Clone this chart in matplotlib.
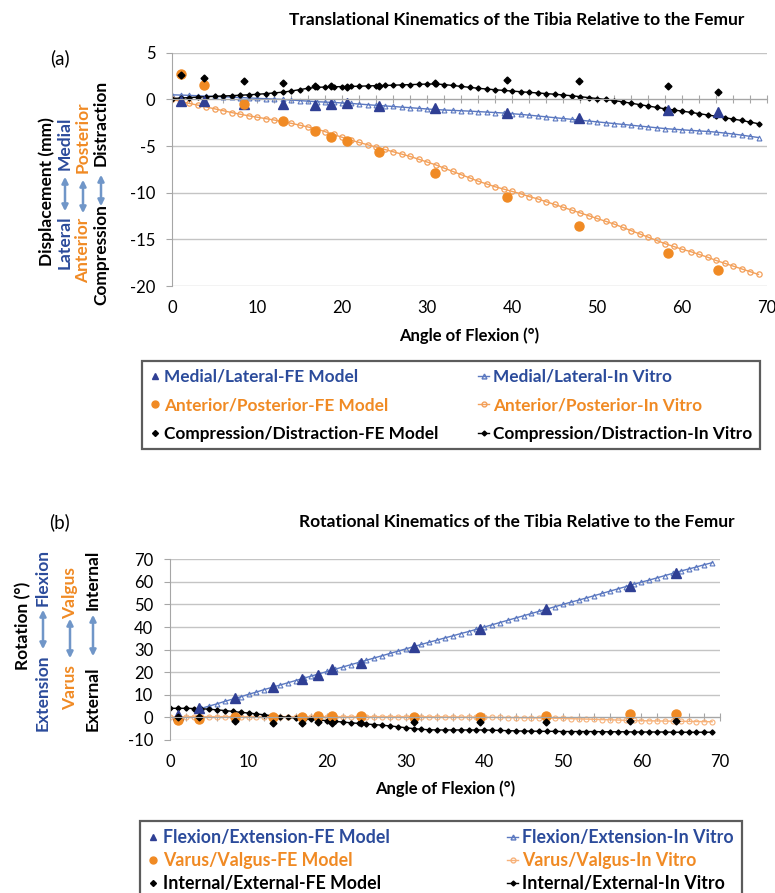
import matplotlib
matplotlib.use("Agg")
import matplotlib.pyplot as plt
from matplotlib.patches import FancyArrowPatch
from matplotlib.lines import Line2D
from matplotlib.ticker import MultipleLocator

plt.rcParams["font.family"] = ["Lato", "DejaVu Sans"]
plt.rcParams["axes.unicode_minus"] = False

W, H = 775, 893

# ---------------- (a) translational data ----------------
fe_angle_a = [1.0, 3.8, 8.5, 13.1, 16.8, 18.7, 20.6, 24.4, 30.9, 39.4, 47.9, 58.4, 64.2]
ml_fe = [-0.2, -0.2, -0.5, -0.5, -0.6, -0.5, -0.4, -0.65, -0.95, -1.5, -2.0, -1.1, -1.3]
ap_fe = [2.75, 1.55, -0.5, -2.3, -3.35, -4.0, -4.4, -5.6, -7.9, -10.5, -13.6, -16.5, -18.3]
cd_fe = [2.6, 2.35, 2.0, 1.75, 1.45, 1.4, 1.3, 1.45, 1.75, 2.1, 2.0, 1.4, 0.8]

vitro_angle_a = list(range(0, 70))
ml_vitro = [0.50, 0.47, 0.44, 0.40, 0.36, 0.33, 0.29, 0.25, 0.21, 0.17,
            0.12, 0.08, 0.04, 0.00, -0.06, -0.12, -0.18, -0.24, -0.28, -0.32,
            -0.37, -0.42, -0.49, -0.56, -0.63, -0.69, -0.75, -0.82, -0.88, -0.95,
            -1.02, -1.08, -1.13, -1.17, -1.21, -1.25, -1.30, -1.35, -1.40, -1.45,
            -1.52, -1.60, -1.68, -1.77, -1.86, -1.95, -2.04, -2.13, -2.22, -2.31,
            -2.40, -2.49, -2.58, -2.67, -2.76, -2.85, -2.94, -3.03, -3.12, -3.19,
            -3.25, -3.31, -3.37, -3.43, -3.50, -3.60, -3.70, -3.82, -3.95, -4.08]
ap_vitro = [0.0, -0.2, -0.42, -0.6, -0.8, -1.0, -1.2, -1.4, -1.58, -1.75,
            -1.9, -2.05, -2.2, -2.38, -2.55, -2.75, -2.95, -3.15, -3.45, -3.75,
            -4.05, -4.35, -4.6, -4.85, -5.1, -5.35, -5.6, -5.85, -6.1, -6.4,
            -6.7, -7.0, -7.35, -7.7, -8.05, -8.4, -8.75, -9.05, -9.35, -9.6,
            -9.85, -10.1, -10.4, -10.65, -10.95, -11.25, -11.55, -11.85, -12.15, -12.45,
            -12.75, -13.05, -13.35, -13.7, -14.05, -14.4, -14.75, -15.1, -15.45, -15.75,
            -16.05, -16.3, -16.6, -16.9, -17.25, -17.55, -17.85, -18.15, -18.45, -18.75]
cd_vitro = [0.1, 0.15, 0.2, 0.25, 0.3, 0.33, 0.37, 0.41, 0.45, 0.5,
            0.55, 0.62, 0.7, 0.78, 0.9, 1.05, 1.2, 1.3, 1.33, 1.36,
            1.38, 1.4, 1.42, 1.45, 1.48, 1.5, 1.53, 1.56, 1.59, 1.62,
            1.65, 1.66, 1.6, 1.5, 1.4, 1.3, 1.2, 1.12, 1.04, 0.97,
            0.9, 0.83, 0.76, 0.7, 0.63, 0.56, 0.48, 0.4, 0.3, 0.2,
            0.1, 0.0, -0.12, -0.25, -0.4, -0.55, -0.7, -0.85, -1.0, -1.12,
            -1.25, -1.38, -1.52, -1.66, -1.8, -1.95, -2.1, -2.25, -2.42, -2.6]

# ---------------- (b) rotational data ----------------
fe_angle_b = [1.0, 3.7, 8.3, 13.1, 16.8, 18.8, 20.6, 24.3, 31.0, 39.5, 47.9, 58.5, 64.4]
flex_fe = [1.0, 4.0, 8.4, 13.6, 16.8, 18.9, 21.5, 23.9, 31.3, 39.1, 47.8, 58.2, 64.1]
vv_fe = [-1.2, -0.9, 0.0, 0.3, 0.3, 0.7, 0.7, 0.7, 0.3, 0.3, 0.7, 1.5, 1.5]
ie_fe = [0.3, 0.0, -1.5, -2.4, -2.4, -2.0, -2.4, -2.7, -1.9, -1.9, -1.9, -1.5, -1.5]

vitro_angle_b = list(range(0, 70))
flex_vitro_angle = list(range(4, 70))
flex_vitro = [4.0, 5.0, 6.0, 7.1, 8.1, 9.1, 10.2, 11.2, 12.3, 13.3,
              14.3, 15.3, 16.3, 17.3, 18.3, 19.3, 20.3, 21.3, 22.3, 23.3,
              24.3, 25.3, 26.3, 27.3, 28.3, 29.3, 30.3, 31.3, 32.3, 33.3,
              34.2, 35.2, 36.1, 37.1, 38.0, 39.0, 40.0, 41.0, 42.0, 43.0,
              44.0, 45.0, 46.0, 47.0, 48.0, 49.0, 50.0, 51.0, 51.9, 52.9,
              53.9, 54.9, 55.9, 56.9, 57.9, 58.9, 59.9, 60.8, 61.8, 62.8,
              63.8, 64.8, 65.7, 66.6, 67.6, 68.5]
vv_vitro = [0.0, 0.2, 0.3, 0.3, 0.3, 0.3, 0.3, 0.3, 0.3, 0.3,
            0.3, 0.3, 0.3, 0.3, 0.3, 0.3, 0.3, 0.3, 0.3, 0.3,
            0.3, 0.3, 0.3, 0.3, 0.3, 0.3, 0.3, 0.3, 0.3, 0.3,
            0.3, 0.3, 0.28, 0.25, 0.22, 0.2, 0.18, 0.15, 0.12, 0.1,
            0.05, 0.0, -0.05, -0.1, -0.15, -0.2, -0.25, -0.3, -0.35, -0.4,
            -0.5, -0.6, -0.7, -0.8, -0.9, -1.0, -1.1, -1.2, -1.3, -1.4,
            -1.5, -1.55, -1.6, -1.65, -1.7, -1.75, -1.8, -1.85, -1.9, -1.95]
ie_vitro = [4.0, 4.0, 4.0, 3.9, 3.8, 3.6, 3.3, 3.0, 2.6, 2.2,
            1.9, 1.5, 1.1, 0.7, 0.3, 0.0, -0.3, -0.6, -0.9, -1.2,
            -1.5, -1.8, -2.1, -2.4, -2.7, -3.0, -3.2, -3.5, -3.8, -4.2,
            -4.6, -5.0, -5.3, -5.5, -5.6, -5.6, -5.6, -5.6, -5.6, -5.6,
            -5.6, -5.7, -5.8, -5.9, -6.0, -6.1, -6.1, -6.2, -6.2, -6.2,
            -6.3, -6.3, -6.3, -6.3, -6.3, -6.4, -6.4, -6.4, -6.4, -6.5,
            -6.5, -6.5, -6.5, -6.5, -6.6, -6.6, -6.6, -6.6, -6.6, -6.6]

labels_a = ["Medial/Lateral-FE Model", "Anterior/Posterior-FE Model", "Compression/Distraction-FE Model",
            "Medial/Lateral-In Vitro", "Anterior/Posterior-In Vitro", "Compression/Distraction-In Vitro"]
labels_b = ["Flexion/Extension-FE Model", "Varus/Valgus-FE Model", "Internal/External-FE Model",
            "Flexion/Extension-In Vitro", "Varus/Valgus-In Vitro", "Internal/External-In Vitro"]

BLUE_FE = "#2f3f94"
BLUE_LINE = "#5b78c0"
BLUE_TXT = "#2b4b9b"
ORANGE = "#f08a24"
ORANGE_LINE = "#f3a05a"
ORANGE_LIGHT = "#f7b27a"
BLACK = "#000000"
ARROW = "#7096c8"
GRID = "#c4c4c4"
AXIS = "#a6a6a6"
FS = 12.5


def fx(px):
    return px / W


def fy(py):
    return 1 - py / H


def style_axis(ax, xmax, ymin, ymax, ystep):
    ax.set_xlim(0, xmax)
    ax.set_ylim(ymin, ymax)
    ax.set_yticks(range(ymin, ymax + 1, ystep))
    ax.yaxis.grid(True, color=GRID, lw=1)
    ax.set_axisbelow(True)
    for s in ("top", "right"):
        ax.spines[s].set_visible(False)
    ax.spines["left"].set_color(AXIS)
    ax.spines["bottom"].set_color(AXIS)
    ax.spines["bottom"].set_position(("data", 0))
    ax.xaxis.set_major_locator(MultipleLocator(2))
    ax.tick_params(axis="x", direction="inout", length=6, color=AXIS, labelbottom=False)
    ax.tick_params(axis="y", direction="out", length=4, color=AXIS, pad=8, labelsize=12)
    sec = ax.secondary_xaxis("bottom")
    sec.spines["bottom"].set_visible(False)
    sec.set_xticks(range(0, xmax + 1, 10))
    sec.tick_params(length=0, pad=10, labelsize=12)
    sec.set_xlabel("Angle of Flexion (°)", fontsize=12, fontweight="bold", labelpad=8)
    return sec


def vtext(x, y, s, color, size=FS):
    fig.text(fx(x), fy(y), s, rotation=90, ha="center", va="center",
             color=color, fontsize=size, fontweight="bold")


def varrow(x, y0, y1):
    fig.add_artist(FancyArrowPatch((fx(x), fy(y0)), (fx(x), fy(y1)), transform=fig.transFigure,
                                   arrowstyle="<|-|>", mutation_scale=9, color=ARROW, lw=1.8))


def make_legend(handles, labels, left, top, right, bottom, size, spacing):
    leg = fig.legend(handles, labels, loc="upper left", ncol=2, mode="expand",
                     bbox_to_anchor=(fx(left), fy(bottom), fx(right) - fx(left), fy(top) - fy(bottom)),
                     prop={"weight": "bold", "size": size}, labelcolor=colors_txt,
                     handlelength=0.6, handletextpad=0.25, labelspacing=spacing, borderpad=0.45,
                     borderaxespad=0, fancybox=False, frameon=True)
    leg.get_frame().set_edgecolor("#333333")
    leg.get_frame().set_linewidth(1.6)
    return leg


fig = plt.figure(figsize=(W / 100, H / 100), dpi=100)
colors_txt = [BLUE_TXT, ORANGE, BLACK, BLUE_TXT, ORANGE, BLACK]

# ---------------- panel (a) ----------------
ax1 = fig.add_axes([fx(172), fy(286.1), fx(767) - fx(172), fy(52.8) - fy(286.1)])
style_axis(ax1, 70, -20, 5, 5)
ax1.plot(vitro_angle_a, ml_vitro, color=BLUE_LINE, lw=1, marker="^", ms=3.5, mfc="none", mec=BLUE_LINE, mew=0.8)
ax1.plot(vitro_angle_a, ap_vitro, color=ORANGE_LINE, lw=1, marker="o", ms=3.8, mfc="none", mec=ORANGE_LINE, mew=0.9)
ax1.plot(vitro_angle_a, cd_vitro, color=BLACK, lw=1, marker="D", ms=2.6)
ax1.plot(fe_angle_a, ml_fe, ls="none", marker="^", ms=6.5, color=BLUE_FE)
ax1.plot(fe_angle_a, ap_fe, ls="none", marker="o", ms=6.5, color=ORANGE)
ax1.plot(fe_angle_a, cd_fe, ls="none", marker="D", ms=3.5, color=BLACK)

fig.text(fx(517), fy(20), "Translational Kinematics of the Tibia Relative to the Femur",
         ha="center", va="center", fontsize=12.5, fontweight="bold")
fig.text(fx(60), fy(58), "(a)", ha="center", va="center", fontsize=13.5)

vtext(47, 192, "Displacement (mm)", BLACK)
vtext(65, 242, "Lateral", BLUE_TXT)
varrow(65, 214, 174)
vtext(65, 143, "Medial", BLUE_TXT)
vtext(83, 250, "Anterior", ORANGE)
varrow(83, 216, 177)
vtext(83, 137, "Posterior", ORANGE)
vtext(101, 255, "Compression", BLACK)
varrow(101, 209, 172)
vtext(101, 123, "Distraction", BLACK)

handles_a = [
    Line2D([], [], ls="none", marker="^", ms=5, color=BLUE_FE),
    Line2D([], [], ls="none", marker="o", ms=5, color=ORANGE),
    Line2D([], [], ls="none", marker="D", ms=3, color=BLACK),
    Line2D([], [], color=BLUE_LINE, lw=1, marker="^", ms=3.5, mfc="none", mec=BLUE_LINE),
    Line2D([], [], color=ORANGE_LINE, lw=1, marker="o", ms=3.5, mfc="none", mec=ORANGE_LINE),
    Line2D([], [], color=BLACK, lw=1, marker="D", ms=2.5),
]
make_legend(handles_a, labels_a, 142, 361, 760, 448, 12.4, 0.72)

# ---------------- panel (b) ----------------
ax2 = fig.add_axes([fx(170), fy(739.9), fx(720) - fx(170), fy(559.3) - fy(739.9)])
style_axis(ax2, 70, -10, 70, 10)
ax2.plot(flex_vitro_angle, flex_vitro, color=BLUE_LINE, lw=1, marker="^", ms=3.5, mfc="none", mec=BLUE_LINE, mew=0.8)
ax2.plot(vitro_angle_b, vv_vitro, color=ORANGE_LIGHT, lw=1, marker="o", ms=3.6, mfc="none", mec=ORANGE_LIGHT, mew=0.8)
ax2.plot(vitro_angle_b, ie_vitro, color=BLACK, lw=1, marker="D", ms=2.6)
ax2.plot(fe_angle_b, flex_fe, ls="none", marker="^", ms=6.5, color=BLUE_FE)
ax2.plot(fe_angle_b, vv_fe, ls="none", marker="o", ms=6.5, color=ORANGE)
ax2.plot(fe_angle_b, ie_fe, ls="none", marker="D", ms=3.5, color=BLACK)

fig.text(fx(517), fy(522), "Rotational Kinematics of the Tibia Relative to the Femur",
         ha="center", va="center", fontsize=12.5, fontweight="bold")
fig.text(fx(60), fy(522), "(b)", ha="center", va="center", fontsize=13.5)

vtext(23, 626, "Rotation (°)", BLACK)
vtext(43, 693, "Extension", BLUE_TXT)
varrow(43, 652, 607)
vtext(43, 578, "Flexion", BLUE_TXT)
vtext(70, 688, "Varus", ORANGE)
varrow(70, 661, 616)
vtext(70, 593, "Valgus", ORANGE)
vtext(93, 699, "External", BLACK)
varrow(93, 659, 612)
vtext(93, 580, "Internal", BLACK)

handles_b = [
    Line2D([], [], ls="none", marker="^", ms=5, color=BLUE_FE),
    Line2D([], [], ls="none", marker="o", ms=5, color=ORANGE),
    Line2D([], [], ls="none", marker="D", ms=3, color=BLACK),
    Line2D([], [], color=BLUE_LINE, lw=1, marker="^", ms=3.5, mfc="none", mec=BLUE_LINE),
    Line2D([], [], color=ORANGE_LIGHT, lw=1, marker="o", ms=3.5, mfc="none", mec=ORANGE_LIGHT),
    Line2D([], [], color=BLACK, lw=1, marker="D", ms=2.5),
]
make_legend(handles_b, labels_b, 140, 821, 742, 900, 12.8, 0.35)

fig.savefig("out.png", dpi=100)
